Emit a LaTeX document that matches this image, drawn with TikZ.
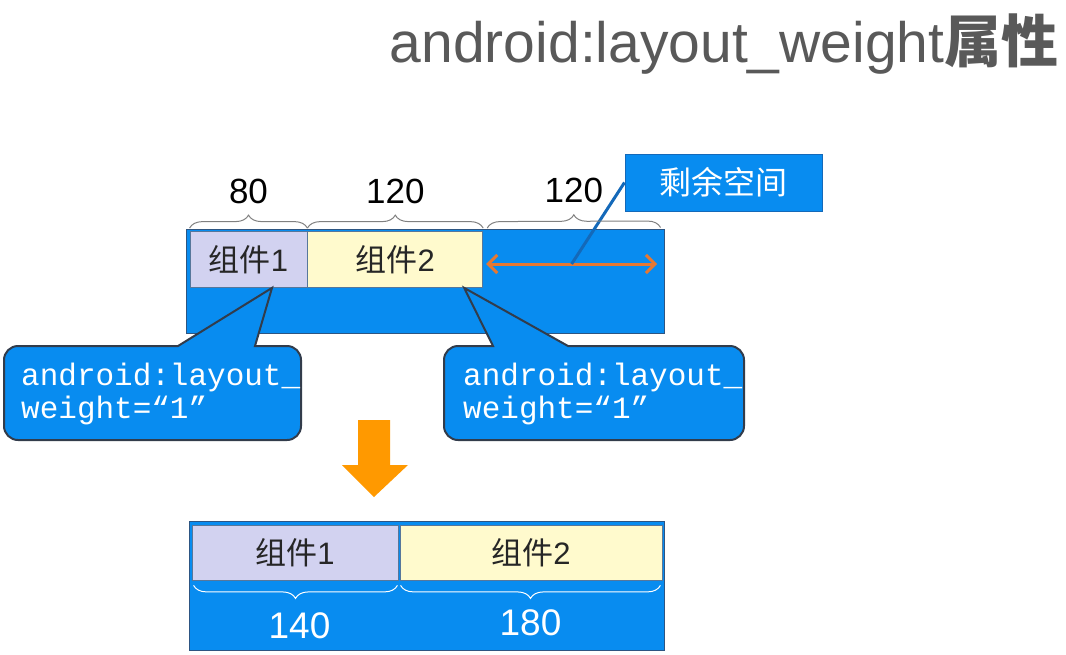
\documentclass[tikz,border=0pt]{standalone}
\usepackage{fontspec}
\setmainfont{Liberation Sans}
\setmonofont{Liberation Mono}
\newfontfamily\cjk{Noto Sans CJK SC}
\usetikzlibrary{positioning,decorations.pathreplacing,arrows.meta}

\definecolor{panelblue}{RGB}{8,140,240}
\definecolor{paneledge}{RGB}{45,85,130}
\definecolor{lavender}{RGB}{210,210,240}
\definecolor{paleyellow}{RGB}{255,250,205}
\definecolor{gaporange}{RGB}{230,120,50}
\definecolor{arroworange}{RGB}{255,153,0}
\definecolor{titlegray}{RGB}{89,89,89}
\definecolor{noteedge}{RGB}{50,60,75}
\definecolor{noteline}{RGB}{20,105,185}

\tikzset{
  panel/.style={draw=paneledge, line width=1pt, fill=panelblue},
  comp/.style={draw=paneledge!80, line width=0.8pt, minimum height=56pt, text=black!85, font=\fontsize{31}{31}\selectfont},
  numlabel/.style={font=\fontsize{35}{35}\selectfont, anchor=base, text=black},
  brc/.style={decorate, decoration={brace, amplitude=13pt}, line width=1pt},
  callout/.style={draw=noteedge, line width=2pt, fill=panelblue},
  monotext/.style={font=\ttfamily\fontsize{31}{33}\selectfont, text=white, align=left, anchor=west, inner sep=0pt},
}

\begin{document}
\begin{tikzpicture}[x=1pt,y=-1pt]
  \useasboundingbox (0,0) rectangle (1066,654);
  \node[anchor=base east, text=titlegray, font=\fontsize{57}{57}\selectfont] (title) at (1062,62) {android:layout\_weight{\cjk\bfseries 属性}};

  % before: two components and the free space
  \node[panel, minimum width=478pt, minimum height=104pt] (topbox) at (425,281) {};
  \node[comp, fill=lavender, minimum width=117pt] (c1) at (248.5,259.5) {{\cjk 组件}1};
  \node[comp, fill=paleyellow, minimum width=175pt, right=0pt of c1] (c2) {{\cjk 组件}2};
  \coordinate (gapL) at ([xshift=3pt,yshift=-4.5pt]c2.east);
  \coordinate (gapR) at (657,264);
  \draw[gaporange, line width=3pt, {Straight Barb[length=9pt,width=18pt]}-{Straight Barb[length=9pt,width=18pt]}] (gapL) -- (gapR) coordinate[midway] (gapmid);
  \node[panel, draw=noteline, minimum width=197pt, minimum height=57pt, text=white, font=\cjk\fontsize{32}{32}\selectfont] (gapnote) at (723.5,182.5) {剩余空间};
  \draw[noteline, line width=3pt] (gapnote.west) -- (gapmid);

  \draw[brc, gray] ([yshift=3pt]c1.north west) -- ([yshift=3pt]c1.north east) node[numlabel, midway, yshift=25pt] {80};
  \draw[brc, gray] ([yshift=3pt]c2.north west) -- ([yshift=3pt]c2.north east) node[numlabel, midway, yshift=25pt] {120};
  \draw[brc, gray] ([xshift=4pt,yshift=3pt]c2.north east) -- ([xshift=-4pt,yshift=1pt]topbox.north east) node[numlabel, midway, yshift=25pt] {120};

  % weight callouts
  \coordinate (tip1) at ([xshift=23.5pt]c1.south);
  \coordinate (tip2) at ([xshift=-19pt]c2.south east);
  \draw[callout] (4,400) [rounded corners=14pt] -- (4,346) [sharp corners] -- (178,346) -- (tip1) -- (255,346) [rounded corners=14pt] -- (301,346) -- (301,440) -- (4,440) -- cycle;
  \draw[callout] (444,400) [rounded corners=14pt] -- (444,346) [sharp corners] -- (493,346) -- (tip2) -- (568,346) [rounded corners=14pt] -- (744,346) -- (744,440) -- (444,440) -- cycle;
  \node[monotext] (note1) at (21,394) {android:layout\_\\weight=“1”};
  \node[monotext] (note2) at (463,394) {android:layout\_\\weight=“1”};

  \fill[arroworange] (358,420) -- (390,420) -- (390,465) -- (408,465) -- (374,497) -- (342,465) -- (358,465) -- cycle;

  % after
  \node[panel, minimum width=475pt, minimum height=129pt] (botbox) at (426.5,585.5) {};
  \node[comp, fill=lavender, minimum width=206pt, minimum height=55pt] (d1) at (295,552.5) {{\cjk 组件}1};
  \node[comp, fill=paleyellow, minimum width=262pt, minimum height=55pt] (d2) at (531,552.5) {{\cjk 组件}2};
  \draw[brc, white] ([xshift=-1pt,yshift=-5pt]d1.south east) -- ([xshift=2pt,yshift=-5pt]d1.south west) node[numlabel, text=white, font=\fontsize{37}{37}\selectfont, midway, xshift=4pt, yshift=-53pt] {140};
  \draw[brc, white] ([xshift=-2pt,yshift=-5pt]d2.south east) -- ([xshift=1pt,yshift=-5pt]d2.south west) node[numlabel, text=white, font=\fontsize{37}{37}\selectfont, midway, yshift=-50pt] {180};
\end{tikzpicture}
\end{document}
